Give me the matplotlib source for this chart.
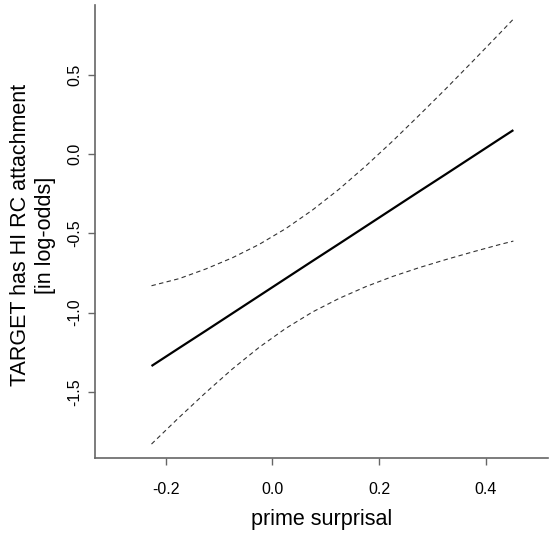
import matplotlib

matplotlib.use("Agg")
import matplotlib.pyplot as plt

# prime surprisal grid
x_vals = [-0.227, -0.175, -0.125, -0.075, -0.025, 0.025, 0.075, 0.125,
          0.175, 0.225, 0.275, 0.325, 0.375, 0.425, 0.452]
# fitted log-odds
fit_vals = [-1.337, -1.223, -1.114, -1.004, -0.894, -0.784, -0.674, -0.565,
            -0.455, -0.345, -0.235, -0.126, -0.016, 0.094, 0.153]
# upper / lower confidence band
upper_vals = [-0.830, -0.785, -0.724, -0.653, -0.569, -0.469, -0.352, -0.220,
              -0.074, 0.082, 0.246, 0.413, 0.585, 0.759, 0.854]
lower_vals = [-1.830, -1.661, -1.504, -1.355, -1.219, -1.099, -0.996, -0.910,
              -0.836, -0.772, -0.716, -0.665, -0.617, -0.571, -0.548]

x_ticks = [-0.2, 0.0, 0.2, 0.4]
y_ticks = [-1.5, -1.0, -0.5, 0.0, 0.5]

plt.rcParams["font.family"] = ["Liberation Sans", "DejaVu Sans"]

fig = plt.figure(figsize=(5.53, 5.33), dpi=100)
ax = fig.add_axes([0.1718, 0.1407, 0.8192, 0.8499])

ax.plot(x_vals, fit_vals, color="black", lw=1.6, solid_capstyle="butt")
for band in (upper_vals, lower_vals):
    ax.plot(x_vals, band, color="#333333", lw=0.8, dashes=(4, 3))

ax.set_xlim(-0.333, 0.517)
ax.set_ylim(-1.918, 0.943)

for side in ("top", "right"):
    ax.spines[side].set_visible(False)
for side in ("left", "bottom"):
    ax.spines[side].set_color("#666666")
    ax.spines[side].set_linewidth(1.2)

ax.set_xticks(x_ticks)
ax.set_xticklabels([f"{v:.1f}" for v in x_ticks])
ax.set_yticks(y_ticks)
ax.set_yticklabels([f"{v:.1f}" for v in y_ticks], rotation=90, va="center")
ax.tick_params(axis="both", length=5, width=1.0, color="#666666", labelsize=11.5)
ax.tick_params(axis="x", pad=12)
ax.tick_params(axis="y", pad=4)

fig.text(0.5 * (0.1718 + 0.991), 1 - 520 / 533, "prime surprisal",
         ha="center", va="center", fontsize=15.5)
fig.text(21 / 553, 1 - 235 / 533, "TARGET has HI RC attachment",
         ha="center", va="center", rotation=90, fontsize=15.5)
fig.text(46 / 553, 1 - 235 / 533, "[in log-odds]",
         ha="center", va="center", rotation=90, fontsize=15.5)

fig.savefig("out.png", dpi=100)
